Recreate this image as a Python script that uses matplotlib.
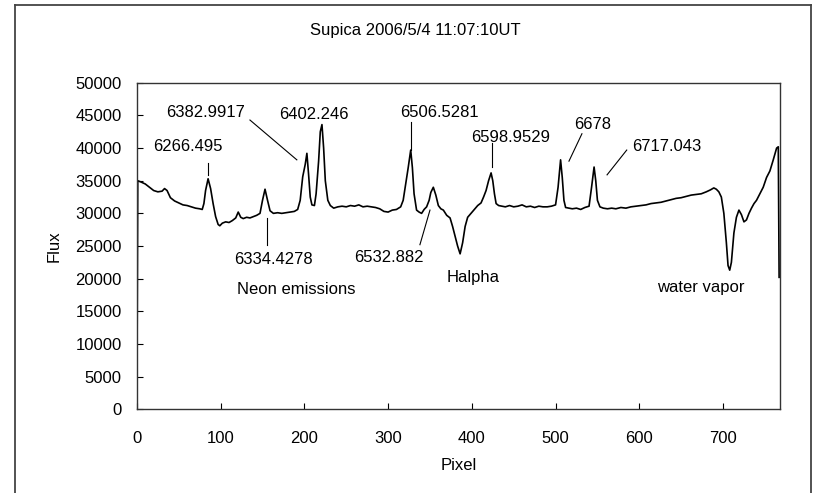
import matplotlib.pyplot as plt
from matplotlib.lines import Line2D

plt.rcParams['font.family'] = ['Liberation Sans', 'DejaVu Sans']

# spectrum (pixel, flux)
pixel = [0, 1, 5, 10, 15, 20, 25, 30, 33, 36, 40, 45, 50, 55, 60, 65, 70, 75, 78,
         80, 82, 85, 88, 91, 94, 97, 99, 102, 106, 110, 114, 118, 121, 124, 127,
         131, 135, 139, 143, 147, 150, 153, 156, 159, 163, 168, 173, 178, 183,
         188, 192, 195, 198, 201, 203, 205, 207, 209, 212, 214, 217, 219, 221,
         223, 225, 228, 231, 235, 240, 245, 250, 255, 260, 265, 270, 275, 280,
         285, 290, 295, 300, 305, 310, 315, 318, 321, 324, 327, 329, 331, 334,
         337, 340, 343, 346, 349, 351, 354, 357, 360, 363, 366, 370, 374, 377,
         380, 383, 386, 389, 392, 395, 399, 403, 407, 411, 414, 417, 420, 423,
         425, 427, 429, 432, 436, 440, 445, 450, 455, 460, 465, 470, 475, 480,
         485, 490, 495, 500, 503, 506, 508, 510, 512, 516, 520, 525, 530, 535,
         540, 543, 546, 548, 550, 553, 557, 562, 567, 572, 578, 584, 590, 596,
         602, 608, 614, 620, 626, 632, 638, 644, 650, 656, 662, 668, 674, 680,
         685, 689, 692, 695, 698, 701, 704, 706, 708, 710, 713, 716, 719, 722,
         725, 728, 731, 734, 737, 740, 744, 748, 752, 756, 760, 764, 766, 767]
flux = [2600, 35000, 34800, 34500, 34000, 33500, 33300, 33400, 33800, 33500,
        32400, 31900, 31600, 31300, 31200, 31000, 30800, 30700, 30600,
        31500, 33500, 35300, 33800, 31500, 29500, 28300, 28100, 28500, 28700,
        28600, 28900, 29300, 30200, 29400, 29200, 29400, 29300, 29500, 29700,
        30000, 32000, 33700, 32000, 30400, 30000, 30100, 30000, 30100, 30200,
        30300, 30600, 32000, 35600, 37500, 39200, 36000, 32500, 31300, 31200,
        33000, 38000, 42500, 43600, 40000, 35000, 32000, 31200, 30800, 31000,
        31100, 31000, 31200, 31100, 31300, 31000, 31100, 31000, 30900, 30700,
        30300, 30200, 30500, 30600, 31000, 32000, 34500, 37000, 39700, 37000,
        33000, 30500, 30200, 30000, 30600, 31000, 32000, 33200, 34000, 32800,
        31200, 30700, 30500, 29700, 29300, 28000, 26500, 25000, 23800, 25500,
        28000, 29400, 30000, 30600, 31200, 31600, 32500, 33500, 35000, 36200,
        35000, 33000, 31500, 31200, 31100, 31000, 31200, 31000, 31100, 31300,
        31000, 31100, 30900, 31100, 31000, 31000, 31100, 31300, 34000, 38200,
        35500, 32000, 30900, 30800, 30700, 30800, 30600, 30900, 31100, 34000,
        37100, 35000, 32000, 31000, 30800, 30700, 30800, 30700, 30900, 30800,
        31000, 31100, 31200, 31300, 31500, 31600, 31700, 31900, 32100, 32300,
        32400, 32600, 32800, 32900, 33000, 33300, 33600, 33900, 33700, 33300,
        32500, 30000, 25500, 22000, 21300, 22500, 27000, 29400, 30500, 29800,
        28700, 29000, 30000, 30800, 31500, 32000, 33000, 34000, 35500, 36500,
        38200, 40000, 40200, 20200]

# line identifications: label, text position, leader line start/end
labels = ['6266.495', '6382.9917', '6402.246', '6506.5281', '6598.9529',
          '6678', '6717.043', '6334.4278', '6532.882']
label_x = [61, 81.5, 211.5, 361, 446, 544, 633, 162.5, 301]
label_y = [40200, 45400, 45100, 45400, 41700, 43600, 40300, 22900, 23200]
lead_x0 = [85, 135, None, 327, 424, 531.5, 585, 155, 338]
lead_y0 = [37700, 44300, None, 44000, 40800, 42200, 39700, 29300, 25200]
lead_x1 = [85, 191, None, 327, 424, 516, 561.5, 155, 350]
lead_y1 = [35900, 38200, None, 39700, 37100, 38000, 35900, 25200, 30500]

notes = ['Neon emissions', 'Halpha', 'water vapor']
note_x = [190, 402, 673]
note_y = [18300, 20200, 18600]

fig = plt.figure(figsize=(8.15, 4.93), dpi=100)
ax = fig.add_axes([0.168, 0.170, 0.789, 0.662])

ax.plot(pixel, flux, color='black', linewidth=1.2)

for t, x, y in zip(labels, label_x, label_y):
    ax.text(x, y, t, ha='center', va='center', fontsize=12)
for x0, y0, x1, y1 in zip(lead_x0, lead_y0, lead_x1, lead_y1):
    if x0 is not None:
        ax.plot([x0, x1], [y0, y1], color='black', linewidth=0.8)
for t, x, y in zip(notes, note_x, note_y):
    ax.text(x, y, t, ha='center', va='center', fontsize=12)

ax.set_xlim(0, 768)
ax.set_ylim(0, 50000)
ax.set_xticks(range(0, 800, 100))
ax.set_yticks(range(0, 50001, 5000))
ax.tick_params(direction='in', length=4, labelsize=12)
ax.tick_params(axis='x', pad=16)
ax.tick_params(axis='y', pad=11)
for s in ax.spines.values():
    s.set_color('#333333')
    s.set_linewidth(1)

ax.set_xlabel('Pixel', fontsize=12, labelpad=8)
ax.set_ylabel('Flux', fontsize=12, labelpad=10)
fig.text(0.51, 0.938, 'Supica 2006/5/4 11:07:10UT', ha='center', va='center', fontsize=12)

# outer chart frame (bottom edge is cut off)
fx0, fx1, fy1 = 15 / 815, 811 / 815, 1 - 5 / 493
for xs, ys in [([fx0, fx0], [-0.1, fy1]), ([fx0, fx1], [fy1, fy1]), ([fx1, fx1], [fy1, -0.1])]:
    fig.add_artist(Line2D(xs, ys, color='#444444', linewidth=1.3, transform=fig.transFigure))

fig.savefig('out.png', dpi=100)
